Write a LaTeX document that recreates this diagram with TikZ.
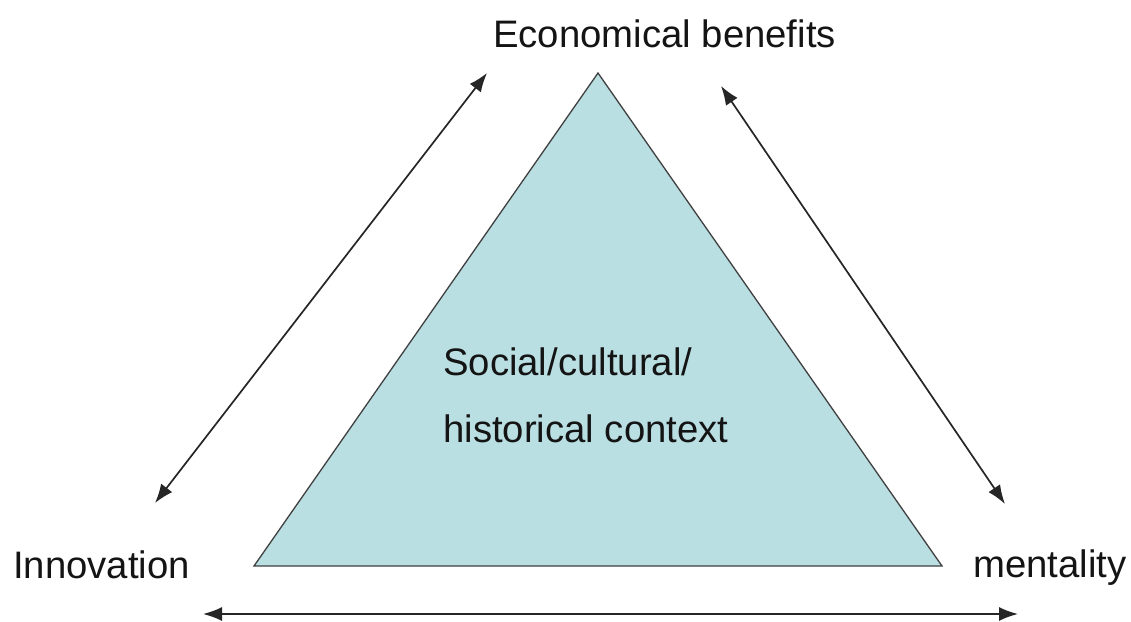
\documentclass[tikz,border=0pt]{standalone}
\usepackage{fontspec}
\setmainfont{Liberation Sans}
\usetikzlibrary{arrows.meta}
\definecolor{trifill}{RGB}{185,223,227}
\definecolor{txt}{RGB}{20,20,20}
\begin{document}
\begin{tikzpicture}[x=1pt,y=-1pt,
  label/.style={inner sep=0pt,anchor=base west,text=txt,font=\fontsize{38.3}{46}\selectfont},
  conn/.style={line width=1.7pt,black!85,{Latex[length=19pt,width=14pt]}-{Latex[length=19pt,width=14pt]}}]
\useasboundingbox (0,0) rectangle (1131,621);
\fill[white] (0,0) rectangle (1131,621);
\coordinate (apex) at (598,73);
\coordinate (bl) at (254,566);
\coordinate (br) at (942,566);
\filldraw[fill=trifill,draw=black!75,line width=1.3pt,line join=miter] (apex) -- (br) -- (bl) -- cycle;
\node[label] (econ) at (493,47) {Economical benefits};
\node[label] (innov) at (13,578) {Innovation};
\node[label] (ment) at (973,577) {mentality};
\node[label] (soc) at (443,375) {Social/cultural/};
\node[label] (hist) at (443,442) {historical context};
\coordinate (a1s) at (155,503);
\coordinate (a1e) at (487,73);
\coordinate (a2s) at (721,86);
\coordinate (a2e) at (1005,504);
\coordinate (a3s) at (203,614);
\coordinate (a3e) at (1018,614);
\draw[conn] (a1s) -- (a1e);
\draw[conn] (a2s) -- (a2e);
\draw[conn] (a3s) -- (a3e);
\end{tikzpicture}
\end{document}
